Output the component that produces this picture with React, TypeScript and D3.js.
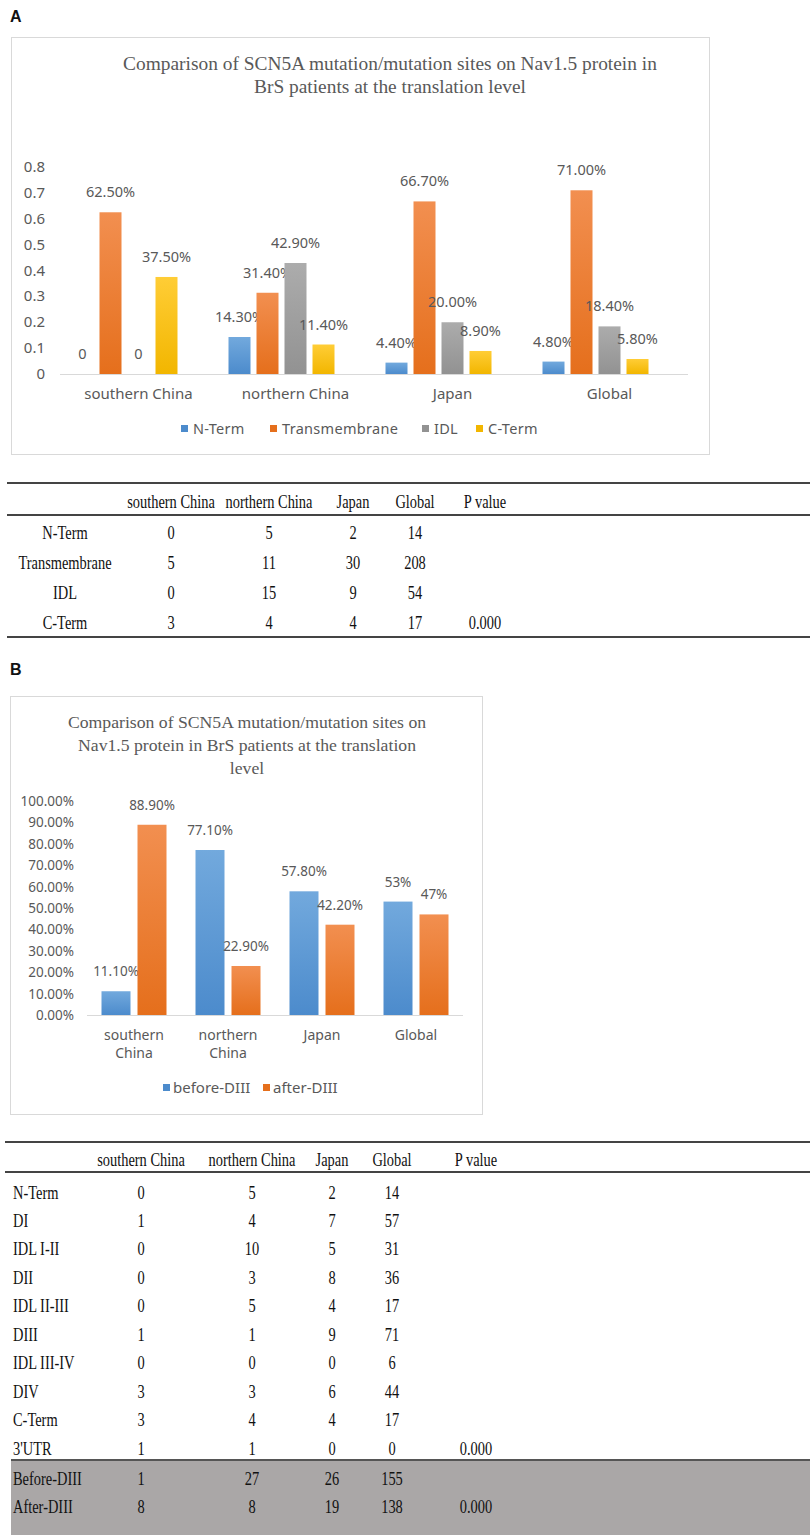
import React from "react";
import * as d3 from "d3";

// ---------- Data: panel A chart ----------
const catsA = ["southern China", "northern China", "Japan", "Global"];
const seriesA = ["N-Term", "Transmembrane", "IDL", "C-Term"];
const nTermA = [0, 0.143, 0.044, 0.048];
const transA = [0.625, 0.314, 0.667, 0.71];
const idlA = [0, 0.429, 0.2, 0.184];
const cTermA = [0.375, 0.114, 0.089, 0.058];
const nTermLblA = ["0", "14.30%", "4.40%", "4.80%"];
const transLblA = ["62.50%", "31.40%", "66.70%", "71.00%"];
const idlLblA = ["0", "42.90%", "20.00%", "18.40%"];
const cTermLblA = ["37.50%", "11.40%", "8.90%", "5.80%"];
const yTicksA = [0, 0.1, 0.2, 0.3, 0.4, 0.5, 0.6, 0.7, 0.8];
const titleA = [
  "Comparison of SCN5A mutation/mutation sites on Nav1.5 protein in",
  "BrS patients at the translation level",
];

// ---------- Data: panel A table ----------
const tableHeadA = ["", "southern China", "northern China", "Japan", "Global", "P value"];
const tableRowsA = [
  ["N-Term", "0", "5", "2", "14", ""],
  ["Transmembrane", "5", "11", "30", "208", ""],
  ["IDL", "0", "15", "9", "54", ""],
  ["C-Term", "3", "4", "4", "17", "0.000"],
];

// ---------- Data: panel B chart ----------
const catsB = [["southern", "China"], ["northern", "China"], ["Japan"], ["Global"]];
const seriesB = ["before-DIII", "after-DIII"];
const beforeB = [0.111, 0.771, 0.578, 0.53];
const afterB = [0.889, 0.229, 0.422, 0.47];
const beforeLblB = ["11.10%", "77.10%", "57.80%", "53%"];
const afterLblB = ["88.90%", "22.90%", "42.20%", "47%"];
const yTicksB = [0, 0.1, 0.2, 0.3, 0.4, 0.5, 0.6, 0.7, 0.8, 0.9, 1.0];
const titleB = [
  "Comparison of SCN5A mutation/mutation sites on",
  "Nav1.5 protein in BrS patients at the translation",
  "level",
];

// ---------- Data: panel B table ----------
const tableHeadB = ["", "southern China", "northern China", "Japan", "Global", "P value"];
const tableRowsB = [
  ["N-Term", "0", "5", "2", "14", ""],
  ["DI", "1", "4", "7", "57", ""],
  ["IDL I-II", "0", "10", "5", "31", ""],
  ["DII", "0", "3", "8", "36", ""],
  ["IDL II-III", "0", "5", "4", "17", ""],
  ["DIII", "1", "1", "9", "71", ""],
  ["IDL III-IV", "0", "0", "0", "6", ""],
  ["DIV", "3", "3", "6", "44", ""],
  ["C-Term", "3", "4", "4", "17", ""],
  ["3'UTR", "1", "1", "0", "0", "0.000"],
];
const tableSumRowsB = [
  ["Before-DIII", "1", "27", "26", "155", ""],
  ["After-DIII", "8", "8", "19", "138", "0.000"],
];

// ---------- Styles ----------
const SANS = "'Noto Sans', 'Open Sans', sans-serif";
const SERIF = "'Liberation Serif', 'Times New Roman', serif";
const TXT = "#595959";
const GRID = "#D9D9D9";
const colors = {
  blue: ["#72a9dd", "#4c8bcc"],
  orange: ["#f28f50", "#e56f1c"],
  gray: ["#acacac", "#929292"],
  yellow: ["#ffcd36", "#f2b600"],
};
const colA = ["blue", "orange", "gray", "yellow"];
const colB = ["blue", "orange"];

const TT = ({ x, y, children, anchor = "middle", sx = 0.74, size = 19.5, fill = "#111" }: any) => (
  <text
    transform={`translate(${x},${y}) scale(${sx},1)`}
    textAnchor={anchor}
    fontFamily={SERIF}
    fontSize={size}
    fill={fill}
  >
    {children}
  </text>
);

function ChartA() {
  const x = d3.scaleBand<string>().domain(catsA).range([60, 688]);
  const inner = d3.scaleBand<string>().domain(seriesA).range([0, 112]).paddingInner(6 / 28).paddingOuter(3 / 28);
  const y = d3.scaleLinear().domain([0, 0.8]).range([374, 167]);
  const vals = [nTermA, transA, idlA, cTermA];
  const lbls = [nTermLblA, transLblA, idlLblA, cTermLblA];
  const legX = [181, 270, 422, 476];
  return (
    <g>
      <rect x={11.5} y={37.5} width={698} height={417} fill="#fff" stroke={GRID} />
      {titleA.map((t, i) => (
        <text key={i} x={390} y={70 + i * 23} textAnchor="middle" fontFamily={SERIF} fontSize={19.4} fill={TXT}>
          {t}
        </text>
      ))}
      {yTicksA.map((t) => (
        <text key={t} x={45} y={y(t) + 5} textAnchor="end" fontFamily={SANS} fontSize={15} fill={TXT}>
          {t === 0 ? "0" : d3.format(".1f")(t)}
        </text>
      ))}
      <line x1={60} x2={688} y1={374.5} y2={374.5} stroke={GRID} strokeWidth={1.2} />
      {catsA.map((c, ci) => {
        const cx = x(c)! + x.bandwidth() / 2;
        const g0 = cx - 14 - 56;
        return (
          <g key={c}>
            {seriesA.map((s, si) => {
              const v = vals[si][ci];
              const bx = g0 + inner(s)!;
              const bw = inner.bandwidth();
              return (
                <g key={s}>
                  {v > 0 && (
                    <rect x={bx} y={y(v)} width={bw} height={y(0) - y(v)} fill={`url(#g-${colA[si]})`} />
                  )}
                  <text x={bx + bw / 2} y={y(v) - 15} textAnchor="middle" fontFamily={SANS} fontSize={14.5} fill={TXT}>
                    {lbls[si][ci]}
                  </text>
                </g>
              );
            })}
            <text x={cx} y={399} textAnchor="middle" fontFamily={SANS} fontSize={15} fill={TXT}>
              {c}
            </text>
          </g>
        );
      })}
      {seriesA.map((s, i) => (
        <g key={s}>
          <rect x={legX[i]} y={425} width={7} height={7} fill={colors[colA[i] as keyof typeof colors][1]} />
          <text x={legX[i] + 12} y={434} fontFamily={SANS} fontSize={14.5} fill={TXT} letterSpacing={0.3}>
            {s}
          </text>
        </g>
      ))}
    </g>
  );
}

function TableA() {
  const colX = [65, 171, 269, 353, 415, 485];
  const top = 483;
  return (
    <g>
      <line x1={7} x2={810} y1={top} y2={top} stroke="#444" strokeWidth={2} />
      {tableHeadA.map((h, i) => (
        <TT key={i} x={colX[i]} y={507.5}>{h}</TT>
      ))}
      <line x1={7} x2={810} y1={515} y2={515} stroke="#444" strokeWidth={2} />
      {tableRowsA.map((r, ri) =>
        r.map((c, ci) => (
          <TT key={ri + "-" + ci} x={colX[ci]} y={538.5 + ri * 30.2}>{c}</TT>
        ))
      )}
      <line x1={7} x2={810} y1={637} y2={637} stroke="#444" strokeWidth={2} />
    </g>
  );
}

function ChartB() {
  const labels = catsB.map((c) => c.join(" "));
  const x = d3.scaleBand<string>().domain(labels).range([87, 463]);
  const inner = d3.scaleBand<string>().domain(seriesB).range([-36, 36]).paddingInner(7 / 36).paddingOuter(3.5 / 36);
  const y = d3.scaleLinear().domain([0, 1]).range([1015, 801]);
  const vals = [beforeB, afterB];
  const lbls = [beforeLblB, afterLblB];
  const legX = [163, 263];
  return (
    <g>
      <rect x={10.5} y={696.5} width={472} height={418} fill="#fff" stroke={GRID} />
      {titleB.map((t, i) => (
        <text key={i} x={247} y={728 + i * 23} textAnchor="middle" fontFamily={SERIF} fontSize={17.7} fill={TXT}>
          {t}
        </text>
      ))}
      {yTicksB.map((t) => (
        <text key={t} x={74} y={y(t) + 5} textAnchor="end" fontFamily={SANS} fontSize={13.5} fill={TXT}>
          {d3.format(".2%")(t)}
        </text>
      ))}
      <line x1={87} x2={463} y1={1015.5} y2={1015.5} stroke={GRID} strokeWidth={1.2} />
      {catsB.map((c, ci) => {
        const key = labels[ci];
        const cx = x(key)! + x.bandwidth() / 2;
        return (
          <g key={key}>
            {seriesB.map((s, si) => {
              const v = vals[si][ci];
              const bx = cx + inner(s)!;
              const bw = inner.bandwidth();
              return (
                <g key={s}>
                  <rect x={bx} y={y(v)} width={bw} height={y(0) - y(v)} fill={`url(#g-${colB[si]})`} />
                  <text x={bx + bw / 2} y={y(v) - 15} textAnchor="middle" fontFamily={SANS} fontSize={13.5} fill={TXT}>
                    {lbls[si][ci]}
                  </text>
                </g>
              );
            })}
            {c.map((line, li) => (
              <text key={li} x={cx} y={1040 + li * 18} textAnchor="middle" fontFamily={SANS} fontSize={14} fill={TXT}>
                {line}
              </text>
            ))}
          </g>
        );
      })}
      {seriesB.map((s, i) => (
        <g key={s}>
          <rect x={legX[i]} y={1084} width={7} height={7} fill={colors[colB[i] as keyof typeof colors][1]} />
          <text x={legX[i] + 10} y={1093} fontFamily={SANS} fontSize={15} fill={TXT}>
            {s}
          </text>
        </g>
      ))}
    </g>
  );
}

function TableB() {
  const colX = [13, 141, 252, 332, 392, 476];
  const rowY0 = 1198.5;
  const rh = 28.45;
  const nr = tableRowsB.length;
  const sumTop = 1460;
  return (
    <g>
      <rect x={11} y={sumTop} width={799} height={1535 - sumTop} fill="#aaa7a7" />
      <line x1={5} x2={810} y1={1142} y2={1142} stroke="#444" strokeWidth={2} />
      {tableHeadB.map((h, i) => (
        <TT key={i} x={colX[i]} y={1165.5}>{h}</TT>
      ))}
      <line x1={5} x2={810} y1={1172} y2={1172} stroke="#444" strokeWidth={2} />
      {tableRowsB.map((r, ri) =>
        r.map((c, ci) => (
          <TT key={ri + "-" + ci} x={colX[ci]} y={rowY0 + ri * rh} anchor={ci === 0 ? "start" : "middle"}>
            {c}
          </TT>
        ))
      )}
      <line x1={11} x2={810} y1={sumTop} y2={sumTop} stroke="#555" strokeWidth={2} />
      {tableSumRowsB.map((r, ri) =>
        r.map((c, ci) => (
          <TT key={"s" + ri + "-" + ci} x={colX[ci]} y={rowY0 + (nr + ri) * rh + 2} anchor={ci === 0 ? "start" : "middle"}>
            {c}
          </TT>
        ))
      )}
    </g>
  );
}

export default function App() {
  return (
    <div style={{ position: "absolute", left: 0, top: 0 }}>
      <svg width={810} height={1535} style={{ display: "block", background: "#fff" }}>
        <defs>
          {Object.entries(colors).map(([k, [c1, c2]]) => (
            <linearGradient key={k} id={`g-${k}`} x1="0" y1="0" x2="0" y2="1">
              <stop offset="0" stopColor={c1} />
              <stop offset="1" stopColor={c2} />
            </linearGradient>
          ))}
        </defs>
        <text x={10} y={22} fontFamily="'Liberation Sans', Arial, sans-serif" fontWeight="bold" fontSize={16} fill="#111">
          A
        </text>
        <ChartA />
        <TableA />
        <text x={10} y={675} fontFamily="'Liberation Sans', Arial, sans-serif" fontWeight="bold" fontSize={16} fill="#111">
          B
        </text>
        <ChartB />
        <TableB />
      </svg>
    </div>
  );
}
